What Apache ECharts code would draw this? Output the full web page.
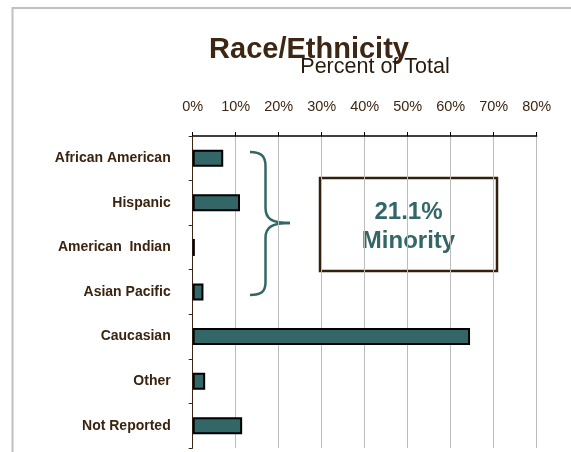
<!DOCTYPE html>
<html><head><meta charset="utf-8">
<script src="https://cdn.jsdelivr.net/npm/echarts@6/dist/echarts.min.js"></script>
<style>html,body{margin:0;padding:0;background:#fff}#c{width:571px;height:452px}</style>
</head><body><div id="c"></div>
<script>
const categories = ['African American','Hispanic','American  Indian','Asian Pacific','Caucasian','Other','Not Reported'];
const values = [7.1, 11.0, 0.5, 2.5, 64.5, 2.9, 11.5];
const tickMin = 0, tickMax = 80, tickStep = 10;
const titleText = 'Race/Ethnicity';
const subtitleText = 'Percent of Total';
const noteLines = ['21.1%', 'Minority'];

const brown = '#3d2613';
const teal = '#336666';
const braceStyle = {fill:'none', stroke:teal, lineWidth:2.5};
const chart = echarts.init(document.getElementById('c'), null, {renderer:'canvas'});
chart.setOption({
  animation:false,
  backgroundColor:'#fff',
  grid:{left:192.7, right:34.3, top:136, bottom:4, containLabel:false},
  xAxis:{type:'value', position:'top', min:tickMin, max:tickMax, interval:tickStep,
    axisLine:{show:true, lineStyle:{color:'#000', width:1.5}},
    axisTick:{show:true, inside:false, length:4, lineStyle:{color:'#000'}},
    axisLabel:{formatter:v=>v+'%', color:brown, fontSize:14.5, fontFamily:'Liberation Sans, Arial', margin:22},
    splitLine:{show:true, lineStyle:{color:'#bcbcbc', width:1}}},
  yAxis:{type:'category', data:categories, inverse:true,
    axisLine:{show:true, lineStyle:{color:brown, width:1}},
    axisTick:{show:true, length:4, lineStyle:{color:brown}},
    axisLabel:{color:'#3a2410', fontSize:14, fontWeight:'bold', fontFamily:'Liberation Sans, Arial', margin:22}},
  series:[{type:'bar', data:values, barWidth:17,
    itemStyle:{color:teal, borderColor:'#000', borderWidth:2}}],
  graphic:[
    {type:'rect', shape:{x:12.5, y:8, width:700, height:600}, style:{fill:'none', stroke:'#c0c0c0', lineWidth:2}, silent:true, z:-1},
    {type:'text', style:{text:titleText, x:309, y:50, align:'center', verticalAlign:'middle', font:'bold 29px "Liberation Sans", Arial', fill:brown}},
    {type:'text', style:{text:subtitleText, x:375, y:67, align:'center', verticalAlign:'middle', font:'21.5px "Liberation Sans", Arial', fill:'#2a1a0c'}},
    {type:'bezierCurve', shape:{x1:250,y1:152,cpx1:261,cpy1:152,cpx2:265.5,cpy2:156,x2:265.5,y2:166}, style:braceStyle},
    {type:'line', shape:{x1:265.5,y1:166,x2:265.5,y2:208}, style:braceStyle},
    {type:'bezierCurve', shape:{x1:265.5,y1:208,cpx1:265.5,cpy1:219,cpx2:272,cpy2:223,x2:290,y2:223}, style:braceStyle},
    {type:'bezierCurve', shape:{x1:290,y1:223,cpx1:272,cpy1:223,cpx2:265.5,cpy2:227,x2:265.5,y2:238}, style:braceStyle},
    {type:'line', shape:{x1:265.5,y1:238,x2:265.5,y2:282}, style:braceStyle},
    {type:'bezierCurve', shape:{x1:265.5,y1:282,cpx1:265.5,cpy1:292,cpx2:261,cpy2:295,x2:250,y2:295}, style:braceStyle},
    {type:'rect', shape:{x:320, y:178, width:177, height:93}, style:{fill:'none', stroke:'#33200c', lineWidth:2.5}},
    {type:'text', style:{text:noteLines[0], x:408.5, y:212, align:'center', verticalAlign:'middle', font:'bold 24px "Liberation Sans", Arial', fill:teal}},
    {type:'text', style:{text:noteLines[1], x:408.5, y:241, align:'center', verticalAlign:'middle', font:'bold 24px "Liberation Sans", Arial', fill:teal}}
  ]
});
</script></body></html>
